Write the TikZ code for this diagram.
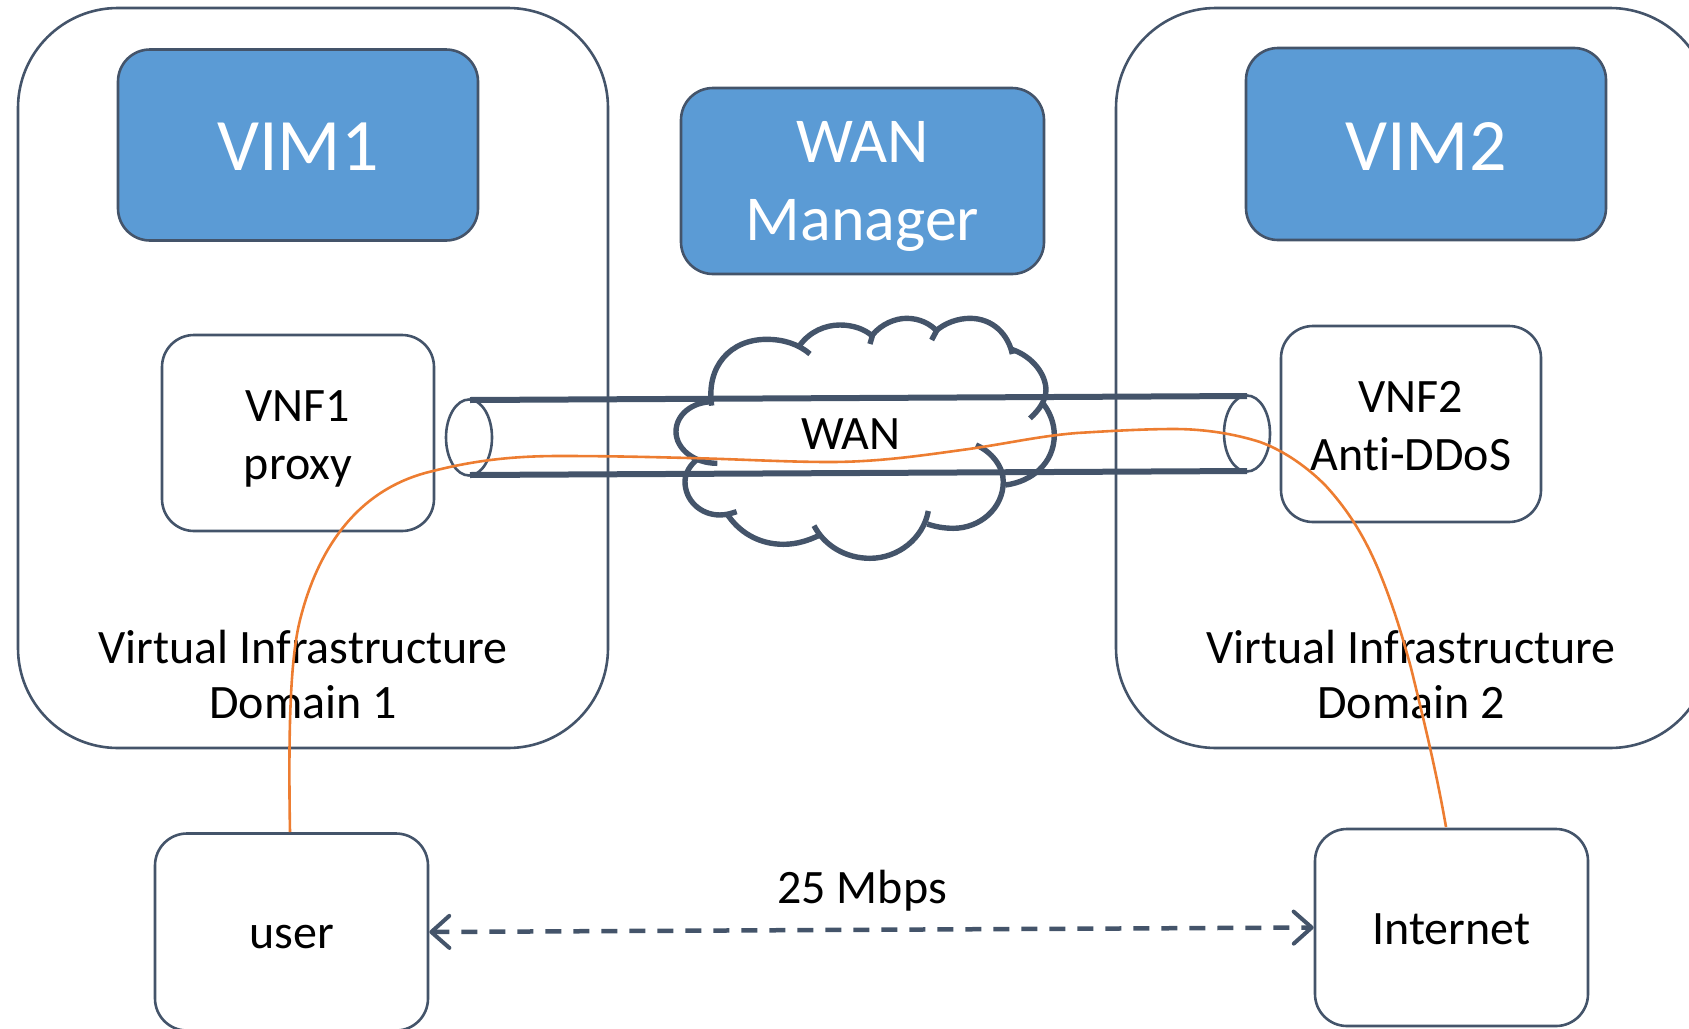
\documentclass[tikz,border=0pt]{standalone}
\usepackage{fontspec}
\setmainfont[Ligatures=NoCommon]{Carlito}
\usetikzlibrary{arrows.meta,shapes.geometric}
\definecolor{slate}{HTML}{44546A}
\definecolor{bluefill}{HTML}{5B9BD5}
\definecolor{orangeline}{HTML}{ED7D31}
\newcommand{\tsize}[2]{\fontsize{#1}{#2}\selectfont}
\tikzset{
  box/.style={draw=slate,line width=2.6pt,rounded corners=#1,inner sep=0pt},
  outerbox/.style={box=100pt},
  mgr/.style={draw=slate,line width=2.6pt,fill=bluefill,rounded corners=32pt,inner sep=0pt},
  plain/.style={box=32pt},
  mgrtext/.style={inner sep=0pt,align=center,text=white},
  lab/.style={inner sep=0pt,align=center,text=black,font=\tsize{48}{55}},
  vnftext/.style={inner sep=0pt,align=center,text=black,font=\tsize{48}{57.5}},
  cloudline/.style={draw=slate,line width=5.4pt},
  tube/.style={draw=slate,line width=6pt},
  rim/.style={draw=slate,line width=2.6pt},
  flow/.style={draw=orangeline,line width=2.6pt},
  rate/.style={draw=slate,line width=4.5pt,dash pattern=on 16pt off 12pt,{Straight Barb[length=18pt,width=32pt,line width=4pt,round]}-{Straight Barb[length=18pt,width=32pt,line width=4pt,round]}}
}
\begin{document}
\begin{tikzpicture}[x=1pt,y=-1pt]
\useasboundingbox (0,0) rectangle (1689,1028);
\clip (0,0) rectangle (1689,1028);
% domains
\node[outerbox,minimum width=590pt,minimum height=740pt] (dom1) at (313,378) {};
\node[outerbox,minimum width=594pt,minimum height=740pt] (dom2) at (1413,378) {};
% managers
\node[mgr,minimum width=360pt,minimum height=191pt] (vim1) at (298,145) {};
\node[mgrtext,font=\tsize{74}{78}] (vim1t) at (298,147) {VIM1};
\node[mgr,minimum width=363pt,minimum height=186pt] (wanm) at (862.5,181) {};
\node[mgrtext,font=\tsize{64}{78}] (wanmt) at (862.5,186.5) {WAN\\Manager};
\node[mgr,minimum width=360pt,minimum height=192pt] (vim2) at (1426,144) {};
\node[mgrtext,font=\tsize{74}{78}] (vim2t) at (1426,146) {VIM2};
% VNFs
\node[plain,minimum width=272pt,minimum height=196pt] (vnf1) at (298,433) {};
\node[vnftext] (vnf1t) at (298,438.7) {VNF1\\proxy};
\node[plain,minimum width=260pt,minimum height=196pt] (vnf2) at (1411,424) {};
\node[vnftext] (vnf2t) at (1411,426) {VNF2\\Anti-DDoS};
% endpoints
\node[plain,minimum width=273pt,minimum height=197pt] (user) at (291.5,932) {};
\node[lab] (usertext) at (291.5,937.5) {user};
\node[plain,minimum width=273pt,minimum height=197pt] (internet) at (1451.5,927.5) {};
\node[lab] (internettext) at (1451.5,929) {Internet};
% domain labels
\node[lab] (d1) at (303,675) {Virtual Infrastructure\\Domain 1};
\node[lab] (d2) at (1411,675) {Virtual Infrastructure\\Domain 2};
% cloud
\begin{scope}[shift={(640,300)},x=0.3333pt,y=-0.3333pt]
\draw[cloudline] (215,317) .. controls (198,200) and (270,118) .. (380,118) .. controls (430,118) and (475,132) .. (510,162);
\draw[cloudline] (480,135) .. controls (510,95) and (555,75) .. (600,75) .. controls (640,75) and (675,88) .. (697,108) -- (690,132);
\draw[cloudline] (697,105) .. controls (725,72) and (765,55) .. (800,55) .. controls (840,55) and (870,72) .. (890,92) -- (875,120);
\draw[cloudline] (885,95) .. controls (915,68) and (955,55) .. (990,55) .. controls (1060,55) and (1105,105) .. (1117,162);
\draw[cloudline] (1115,148) .. controls (1180,170) and (1218,225) .. (1218,270) .. controls (1218,300) and (1198,330) .. (1170,355);
\draw[cloudline] (1205,305) .. controls (1230,335) and (1243,370) .. (1243,405) .. controls (1243,490) and (1175,545) .. (1097,555);
\draw[cloudline] (1008,435) .. controls (1055,455) and (1090,500) .. (1090,545) .. controls (1090,625) and (1020,685) .. (940,685) .. controls (912,685) and (885,680) .. (862,672);
\draw[cloudline] (865,633) .. controls (850,715) and (775,775) .. (690,775) .. controls (620,775) and (555,740) .. (522,677);
\draw[cloudline] (540,705) .. controls (505,722) and (470,733) .. (430,733) .. controls (355,733) and (295,695) .. (260,640);
\draw[cloudline] (290,635) .. controls (275,640) and (258,645) .. (240,645) .. controls (180,645) and (135,600) .. (135,545) .. controls (135,520) and (150,495) .. (172,478);
\draw[cloudline] (232,490) .. controls (160,490) and (108,445) .. (108,395) .. controls (108,345) and (155,305) .. (220,305);
\end{scope}
\node[lab] (wan) at (851,434) {WAN};
% tunnel
\coordinate (tl) at (470,400);
\coordinate (bl) at (470,475);
\coordinate (tr) at (1247,396);
\coordinate (br) at (1247,471);
\draw[tube] (tl) -- (tr);
\draw[tube] (bl) -- (br);
\node[rim,shape=ellipse,minimum width=46pt,minimum height=76pt,inner sep=0pt] (ell) at (469,437.5) {};
\node[rim,shape=ellipse,minimum width=46pt,minimum height=76pt,inner sep=0pt] (elr) at (1247,433.5) {};
% flow
\coordinate (us) at (290,832);
\coordinate (in) at (1446,827);
\draw[flow] (us) .. controls (288,720) and (291,656) .. (300,620) .. controls (315,560) and (350,490) .. (433,471) .. controls (480,459) and (520,456) .. (560,456) .. controls (610,456) and (650,457) .. (689,458) .. controls (735,459) and (785,462) .. (830,462) .. controls (880,462) and (925,455) .. (969,449) .. controls (1010,443) and (1040,436) .. (1077,433) .. controls (1110,431) and (1145,429) .. (1174,429) .. controls (1205,429) and (1235,434) .. (1260,442) .. controls (1285,451) and (1308,468) .. (1325,485) .. controls (1350,512) and (1366,540) .. (1379,571) .. controls (1393,605) and (1402,635) .. (1411,668) .. controls (1425,725) and (1437,775) .. (in);
\draw[rate] (user.east) -- (internet.west);
\node[lab] (rate) at (862,891) {25 Mbps};
\end{tikzpicture}
\end{document}
